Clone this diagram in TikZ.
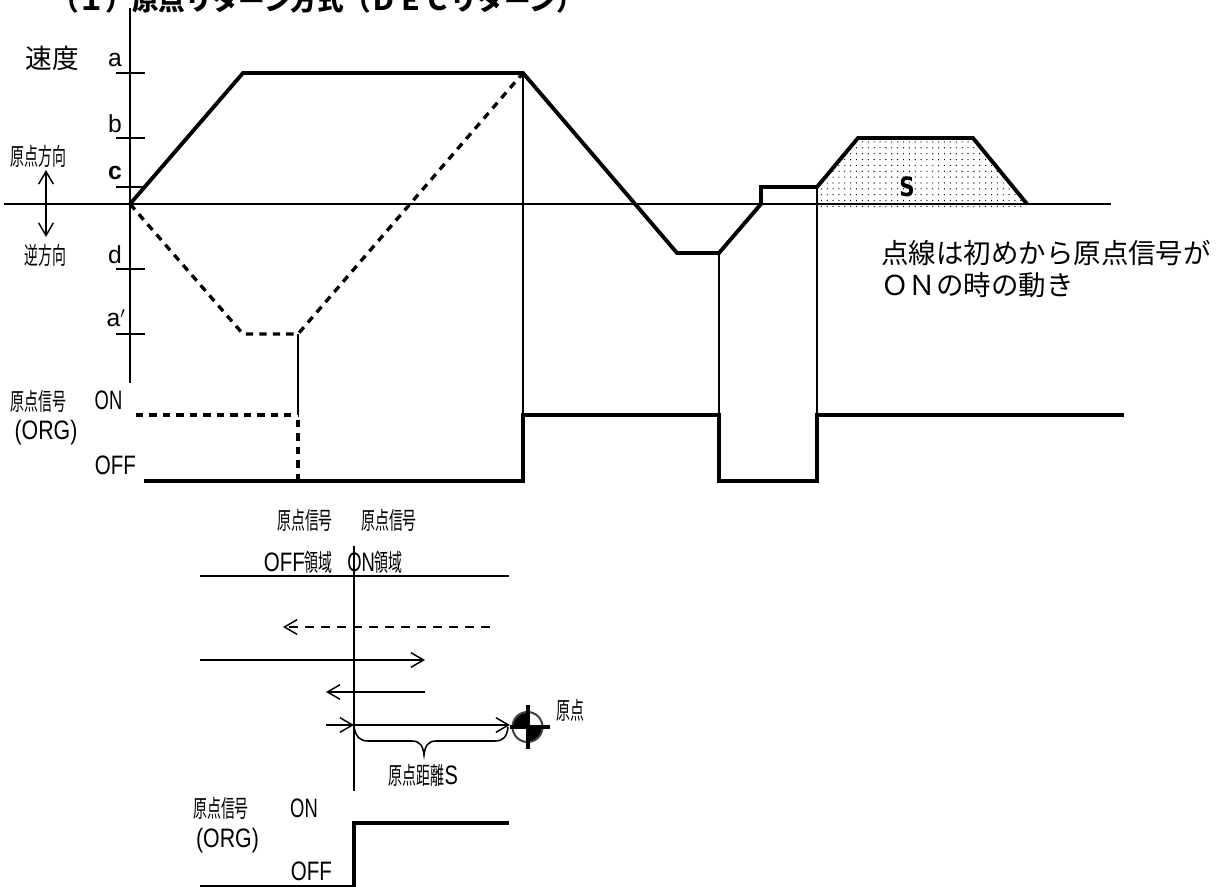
\documentclass[tikz,border=0pt]{standalone}
\usepackage{fontspec}
\setmainfont{Liberation Sans}
\newfontfamily\cjk{Noto Sans CJK JP}
\newfontfamily\dejav{DejaVu Sans}
\newcommand{\squeeze}[2][0.58]{\scalebox{#1}[1]{#2}}
\usetikzlibrary{arrows.meta,patterns.meta}
\tikzset{
  thinline/.style={line width=1.15pt},
  thickline/.style={line width=2.9pt,line join=miter},
  dashline/.style={line width=2.5pt,dash pattern=on 5.5pt off 4.6pt},
  arrowline/.style={line width=1.1pt,-{Straight Barb[length=9.5pt,width=11pt,line width=1.1pt]}},
  bigtext/.style={font=\cjk\fontsize{20}{24}\selectfont,inner sep=0pt},
  notetext/.style={font=\cjk\fontsize{20.6}{24}\selectfont,inner sep=0pt},
  smalltext/.style={font=\cjk\fontsize{18}{20}\selectfont,inner sep=0pt},
  lettertext/.style={font=\fontsize{18.5}{22}\selectfont,inner sep=0pt},
  narrowtext/.style={font=\fontsize{20}{22}\selectfont,inner sep=0pt}
}
\begin{document}
\begin{tikzpicture}[x=0.75pt,y=-0.75pt]
  \useasboundingbox (0,0) rectangle (1216,887);
  \node[bigtext,anchor=west] (title) at (52,0.5) {\bfseries （１）原点リターン方式（ＤＥＣリターン）};
  \fill[pattern={Dots[distance=4.4pt,radius=0.5pt]}] (817,187) -- (858,138) -- (973,138) -- (1027,204) -- (1024,208) -- (817,208) -- cycle;
  \coordinate (axistop) at (130,8);
  \coordinate (axisbot) at (130,383);
  \coordinate (axisleft) at (4,204);
  \coordinate (axisright) at (1111,204);
  \draw[thinline] (axistop) -- (axisbot);
  \draw[thinline] (axisleft) -- (axisright);
  \draw[thinline] (116,73) -- (145,73);
  \draw[thinline] (116,138) -- (145,138);
  \draw[thinline] (116,187) -- (145,187);
  \draw[thinline] (116,269) -- (145,269);
  \draw[thinline] (116,334) -- (145,334);
  \node[bigtext] (speed) at (52,58) {速度};
  \node[lettertext] (labela) at (115,60) {a};
  \node[lettertext] (labelb) at (115,124) {b};
  \node[lettertext] (labelc) at (115,173) {\textbf{c}};
  \node[lettertext] (labeld) at (115,255) {d};
  \node[lettertext] (labelap) at (116,318) {a$'$};
  \node[smalltext] (homedir) at (38.5,156) {\squeeze{原点方向}};
  \node[smalltext] (revdir) at (45.5,255) {\squeeze{逆方向}};
  \coordinate (dirtop) at (46,170);
  \coordinate (dirbot) at (46,237);
  \draw[arrowline,{Straight Barb[length=9.5pt,width=11pt,line width=1.1pt]}-{Straight Barb[length=9.5pt,width=11pt,line width=1.1pt]}] (dirtop) -- (dirbot);
  \draw[thickline] (130,204) -- (243,73) -- (523,73) -- (677,253) -- (719,253) -- (761,204) -- (761,187) -- (817,187) -- (858,138) -- (973,138) -- (1027,204);
  \draw[dashline] (130,204) -- (243,334) -- (298,334) -- (523,73);
  \coordinate (droptopa) at (298,334);
  \coordinate (dropbota) at (298,415);
  \coordinate (droptopb) at (523,73);
  \coordinate (dropbotb) at (523,415);
  \coordinate (droptopc) at (719,253);
  \coordinate (dropbotc) at (719,480);
  \coordinate (droptopd) at (817,187);
  \coordinate (dropbotd) at (817,415);
  \draw[thinline] (droptopa) -- (dropbota);
  \draw[thinline] (droptopb) -- (dropbotb);
  \draw[thinline] (droptopc) -- (dropbotc);
  \draw[thinline] (droptopd) -- (dropbotd);
  \draw[dashline] (136,415) -- (298,415);
  \draw[dashline] (298,481) -- (298,415);
  \draw[thickline] (144,481) -- (523,481) -- (523,415) -- (719,415) -- (719,481) -- (817,481) -- (817,415) -- (1124,415);
  \node[smalltext] (orgsig) at (38.5,401) {\squeeze{原点信号}};
  \node[narrowtext] (orgname) at (46,433) {\squeeze[0.8]{(ORG)}};
  \node[narrowtext] (onlabel) at (108.5,400) {\squeeze[0.69]{ON}};
  \node[narrowtext] (offlabel) at (115.5,465) {\squeeze[0.77]{OFF}};
  \node[font=\dejav\bfseries\fontsize{20}{24}\selectfont,inner sep=0pt] (areas) at (907,187) {\squeeze[0.8]{S}};
  \node[notetext,anchor=north west,align=left] (note) at (881,240) {点線は初めから原点信号が\\ＯＮの時の動き};
  \node[smalltext] (sigoffa) at (305,520) {\squeeze{原点信号}};
  \node[smalltext] (sigona) at (389,520) {\squeeze{原点信号}};
  \node[smalltext,anchor=east] (offarea) at (333,562) {\fontspec{Liberation Sans}\fontsize{20}{22}\selectfont\squeeze[0.77]{OFF}\cjk\fontsize{18}{20}\selectfont\squeeze{領域}};
  \node[smalltext,anchor=east] (onarea) at (403,562) {\fontspec{Liberation Sans}\fontsize{20}{22}\selectfont\squeeze[0.69]{ON}\cjk\fontsize{18}{20}\selectfont\squeeze{領域}};
  \coordinate (bordertop) at (354,546);
  \coordinate (borderbot) at (354,791);
  \coordinate (rowleft) at (200,576);
  \coordinate (rowright) at (509,576);
  \draw[thinline] (bordertop) -- (borderbot);
  \draw[thinline] (rowleft) -- (rowright);
  \coordinate (backstart) at (490,627);
  \coordinate (backend) at (283,627);
  \draw[arrowline,dash pattern=on 7pt off 5pt] (backstart) -- (backend);
  \coordinate (fwdstart) at (200,660);
  \coordinate (fwdend) at (425,660);
  \draw[arrowline] (fwdstart) -- (fwdend);
  \coordinate (revstart) at (425,692);
  \coordinate (revend) at (326,692);
  \draw[arrowline] (revstart) -- (revend);
  \coordinate (appstart) at (326,725);
  \coordinate (append) at (354,725);
  \coordinate (homeend) at (510,725);
  \draw[arrowline] (appstart) -- (append);
  \draw[arrowline] (append) -- (homeend);
  \draw[thinline] (354,727) .. controls (356,737) and (360,741) .. (368,741) -- (412,741) .. controls (420,741) and (423,746) .. (424,755) .. controls (425,746) and (428,741) .. (436,741) -- (495,741) .. controls (503,741) and (507,737) .. (508,727);
  \node[smalltext] (distlabel) at (423.5,775) {\squeeze{原点距離}\fontspec{Liberation Sans}\fontsize{20}{22}\selectfont\squeeze[0.75]{S}};
  \fill (527.5,727) -- (527.5,711.5) arc (270:180:15.5) -- cycle;
  \fill (527.5,727) -- (527.5,742.5) arc (90:0:15.5) -- cycle;
  \draw[line width=1.5pt,black!75] (527.5,727) circle (15);
  \draw[line width=3pt] (527.5,705) -- (527.5,749);
  \draw[line width=3pt] (510,727) -- (550,727);
  \node[smalltext] (homelabel) at (570.5,710) {\squeeze{原点}};
  \node[smalltext] (orgsigb) at (221,808) {\squeeze{原点信号}};
  \node[narrowtext] (orgnameb) at (227.5,841) {\squeeze[0.8]{(ORG)}};
  \node[narrowtext] (onlabelb) at (304,808) {\squeeze[0.69]{ON}};
  \node[narrowtext] (offlabelb) at (311.5,871) {\squeeze[0.77]{OFF}};
  \draw[thinline] (200,886) -- (354,886);
  \draw[thickline] (354,887) -- (354,823) -- (509,823);
\end{tikzpicture}
\end{document}
